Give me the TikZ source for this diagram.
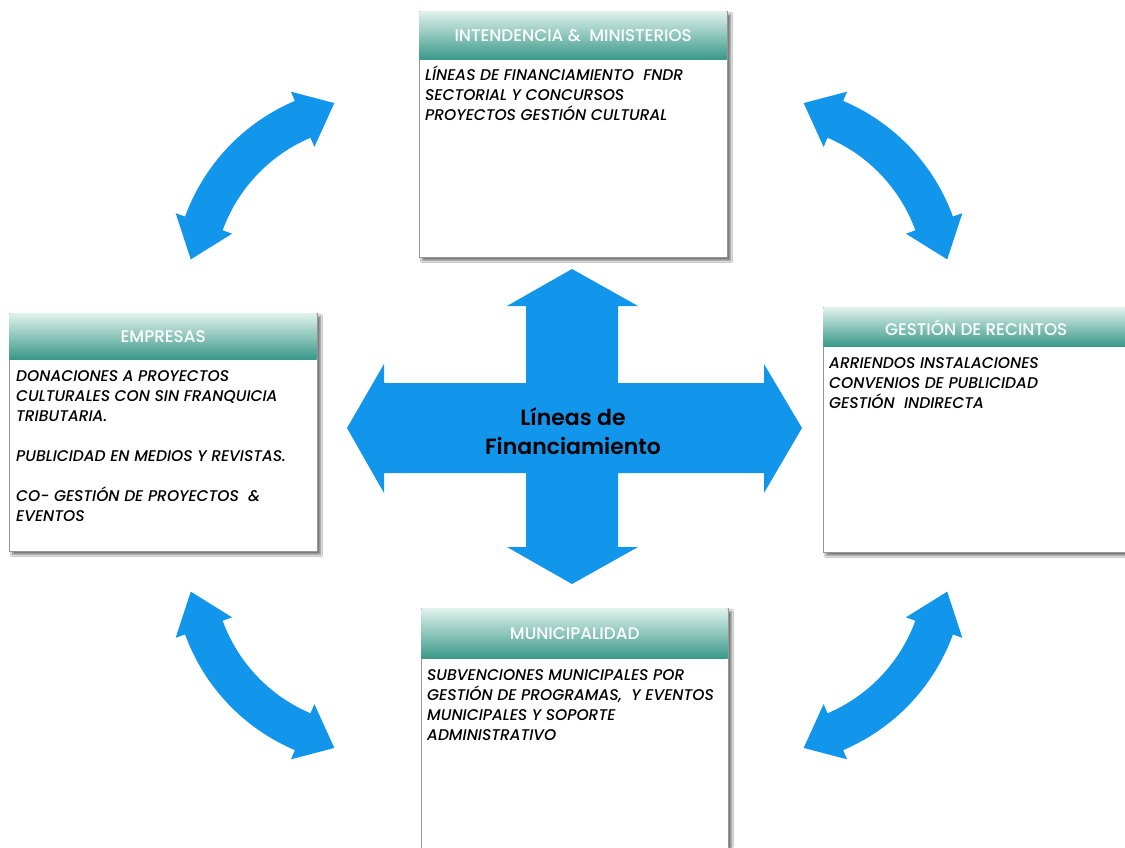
\documentclass[tikz,border=0pt]{standalone}
\usepackage{fontspec}
\setmainfont{Poppins}[UprightFont={Poppins Medium}, ItalicFont={Poppins Medium Italic}, BoldFont={Poppins SemiBold}]
\usetikzlibrary{shadows.blur}
\definecolor{arrowblue}{RGB}{18,150,236}
\definecolor{hdrtop}{RGB}{222,241,235}
\definecolor{hdrbot}{RGB}{56,152,136}
\definecolor{frame}{RGB}{150,150,150}
\tikzset{
  panel/.style={draw=frame, line width=1pt, fill=white, anchor=north west, inner sep=0pt,
    blur shadow={shadow xshift=3pt, shadow yshift=-3pt, shadow blur steps=6, shadow opacity=55, shadow blur extra rounding=0pt}},
  hdr/.style={top color=hdrtop, bottom color=hdrbot, anchor=north west, inner sep=0pt,
    text=white, font=\fontsize{16.8}{19}\selectfont},
  bodytext/.style={anchor=north west, inner sep=0pt, align=left, text=black,
    font=\fontsize{15.5}{20}\selectfont\itshape},
  bigarrow/.style={fill=arrowblue, draw=none},
}
\newcommand{\curvedarrow}{%
  \path[bigarrow] (200:200) arc[start angle=200, end angle=247, radius=200]
    -- (247:210) -- (258:186) -- (247:150)
    -- (247:160) arc[start angle=247, end angle=200, radius=160]
    -- (200:150) -- (188:184) -- (200:210) -- cycle;}
\begin{document}
\begin{tikzpicture}[x=1pt, y=-1pt]
\useasboundingbox (0,0) rectangle (1125,847);
\clip (0,0) rectangle (1125,847);
\fill[white] (0,0) rectangle (1125,847);

% curved arrows
\begin{scope}[shift={(373,285)}] \curvedarrow \end{scope}
\begin{scope}[shift={(765,285)}, xscale=-1] \curvedarrow \end{scope}
\begin{scope}[shift={(373,566)}, yscale=-1] \curvedarrow \end{scope}
\begin{scope}[shift={(765,566)}, xscale=-1, yscale=-1] \curvedarrow \end{scope}

% central cross
\path[bigarrow] (572,269) -- (638,306) -- (618,306) -- (618,383) -- (764,383) -- (764,364)
  -- (802,428) -- (764,493) -- (764,473) -- (618,473) -- (618,547) -- (638,547)
  -- (572,584) -- (507,547) -- (526,547) -- (526,473) -- (384,473) -- (384,493)
  -- (347,428) -- (384,364) -- (384,383) -- (526,383) -- (526,306) -- (507,306) -- cycle;
\node[font=\fontsize{22}{29}\selectfont\bfseries, align=center, text=black] (center) at (573,431)
  {Líneas de\\Financiamiento};

% Intendencia
\node[panel, minimum width=308pt, minimum height=246pt] (intbox) at (419,11) {};
\node[hdr, minimum width=307pt, minimum height=48pt] (inthdr) at (419.5,11.5) {INTENDENCIA \& \ MINISTERIOS};
\node[bodytext] (inttxt) at (425,66) {LÍNEAS DE FINANCIAMIENTO \ FNDR\\SECTORIAL Y CONCURSOS\\PROYECTOS GESTIÓN CULTURAL};

% Empresas
\node[panel, minimum width=308pt, minimum height=238pt] (empbox) at (9,313) {};
\node[hdr, minimum width=307pt, minimum height=46pt] (emphdr) at (9.5,313.5) {EMPRESAS};
\node[bodytext] (emptxt) at (16,370.5) {DONACIONES A PROYECTOS\\CULTURALES CON SIN FRANQUICIA\\TRIBUTARIA.\\[20pt]PUBLICIDAD EN MEDIOS Y REVISTAS.\\[20pt]CO- GESTIÓN DE PROYECTOS \ \&\\EVENTOS};

% Gestion de recintos
\node[panel, minimum width=306pt, minimum height=245pt] (gesbox) at (823,307) {};
\node[hdr, minimum width=305pt, minimum height=39pt] (geshdr) at (823.5,307.5) {GESTIÓN DE RECINTOS};
\node[bodytext] (gestxt) at (829,357.5) {ARRIENDOS INSTALACIONES\\CONVENIOS DE PUBLICIDAD\\GESTIÓN \ INDIRECTA};

% Municipalidad
\node[panel, minimum width=307pt, minimum height=260pt] (munbox) at (421,608) {};
\node[hdr, minimum width=306pt, minimum height=50pt] (munhdr) at (421.5,608.5) {MUNICIPALIDAD};
\node[bodytext] (muntxt) at (427,669.5) {SUBVENCIONES MUNICIPALES POR\\GESTIÓN DE PROGRAMAS, \ Y EVENTOS\\MUNICIPALES Y SOPORTE\\ADMINISTRATIVO};
\end{tikzpicture}
\end{document}
